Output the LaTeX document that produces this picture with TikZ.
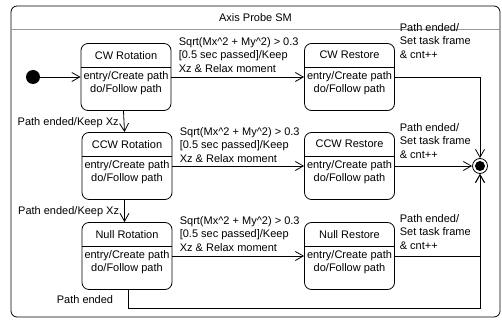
\documentclass[tikz,border=0pt]{standalone}
\usepackage{fontspec}
\setmainfont{Liberation Sans}
\usetikzlibrary{arrows.meta,positioning}
\tikzset{
  state/.style={draw, rounded corners=7pt, minimum width=90pt, minimum height=67pt, inner sep=0pt},
  arr/.style={-{Straight Barb[length=8pt,width=9pt]}},
  lbl/.style={align=left, inner sep=0pt},
}
\begin{document}
\begin{tikzpicture}[x=1pt, y=-1pt, line width=0.8pt, font=\fontsize{11}{13.5}\selectfont]
\useasboundingbox (0,0) rectangle (502,320);
% machine frame
\draw[rounded corners=6pt] (11,6) rectangle (500,317);
\draw[gray!80, line width=1pt] (11,29.5) -- (500,29.5);
\node (title) at (255.5,17.5) {Axis Probe SM};

% states
\node[state] (cwrot) at (126,77) {};
\node[state] (ccwrot) at (127,166) {};
\node[state] (nullrot) at (127,256) {};
\node[state] (cwres) at (349.5,77) {};
\node[state] (ccwres) at (349.5,166) {};
\node[state] (nullres) at (349.5,256) {};
\foreach \s/\t in {cwrot/CW Rotation, ccwrot/CCW Rotation, nullrot/Null Rotation,
                   cwres/CW Restore, ccwres/CCW Restore, nullres/Null Restore}{
  \draw ([yshift=-24pt]\s.north west) -- ([yshift=-24pt]\s.north east);
  \node (\s-name) at ([yshift=-12pt]\s.north) {\t};
  \node (\s-entry) at ([yshift=-33.5pt]\s.north) {entry/Create path};
  \node (\s-do) at ([yshift=-46.5pt]\s.north) {do/Follow path};
}
\node[circle, fill, minimum size=14pt, inner sep=0pt] (init) at (33,77) {};
\node[circle, draw, minimum size=15pt, inner sep=0pt,
  path picture={\fill (path picture bounding box.center) circle (5pt);}] (final) at (480,166) {};
\coordinate (loopc) at (480,308);

% transitions
\draw[arr] (init) -- (cwrot.west);
\draw[arr] (cwrot.east) -- (cwres.west) node[lbl, pos=0, anchor=south west, xshift=7pt, yshift=4pt]
  {Sqrt(Mx\textasciicircum 2 + My\textasciicircum 2) > 0.3\\{}[0.5 sec passed]/Keep\\Xz \& Relax moment};
\draw[arr] (ccwrot.east) -- (ccwres.west) node[lbl, pos=0, anchor=south west, xshift=7pt, yshift=3pt]
  {Sqrt(Mx\textasciicircum 2 + My\textasciicircum 2) > 0.3\\{}[0.5 sec passed]/Keep\\Xz \& Relax moment};
\draw[arr] (nullrot.east) -- (nullres.west) node[lbl, pos=0, anchor=south west, xshift=7pt, yshift=4pt]
  {Sqrt(Mx\textasciicircum 2 + My\textasciicircum 2) > 0.3\\{}[0.5 sec passed]/Keep\\Xz \& Relax moment};
\draw[arr] ([xshift=-2.5pt]cwrot.south) -- ([xshift=-2.5pt]ccwrot.north)
  node[lbl, pos=0.54, anchor=east, xshift=-5pt] {Path ended/Keep Xz};
\draw[arr] ([xshift=-2.5pt]ccwrot.south) -- ([xshift=-2.5pt]nullrot.north)
  node[lbl, pos=0.53, anchor=east, xshift=-5pt] {Path ended/Keep Xz};
\draw[arr] (cwres.east) -| (final.north) node[lbl, pos=0, anchor=south west, xshift=4.5pt, yshift=18pt]
  {Path ended/\\Set task frame\\\& cnt++};
\draw[arr] (ccwres.east) -- (final.west) node[lbl, pos=0, anchor=south west, xshift=4.5pt, yshift=7pt]
  {Path ended/\\Set task frame\\\& cnt++};
\draw[arr] (nullres.east) -| (final.south) node[lbl, pos=0, anchor=south west, xshift=4.5pt, yshift=6pt]
  {Path ended/\\Set task frame\\\& cnt++};
\draw[arr] ([xshift=1.5pt]nullrot.south) |- node[lbl, pos=0.28, anchor=east, xshift=-15pt] {Path ended}
  (loopc) -- (final.south);
\end{tikzpicture}
\end{document}
